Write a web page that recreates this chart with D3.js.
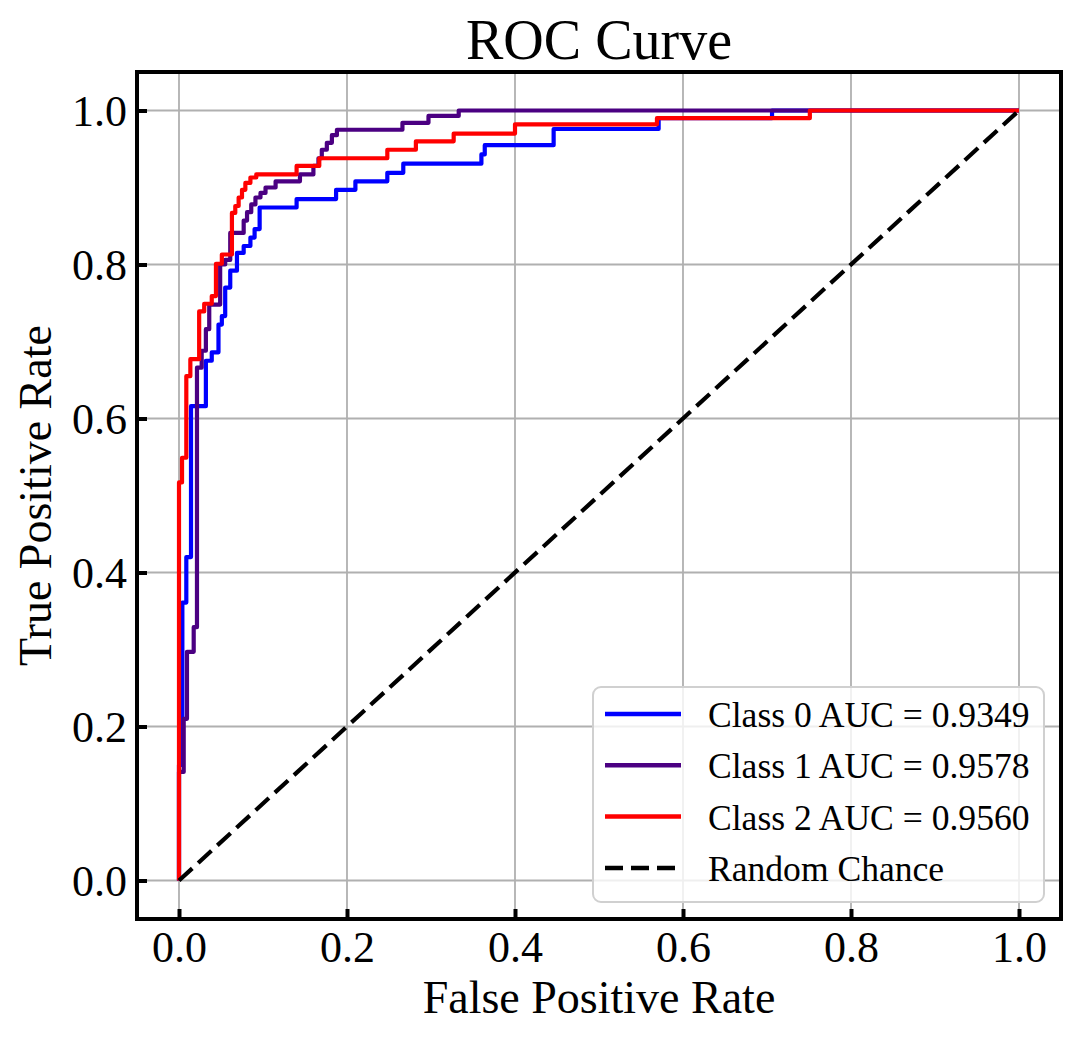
<!DOCTYPE html>
<html>
    <head>
        <meta charset="utf-8">
        <title>ROC Curve</title>
        <style>
            body {
                margin: 0;
                background: white;
            }
            svg text {
                font-family: "Liberation Serif", "Times New Roman", serif;
                fill: black;
            }
            .grid line {
                stroke: #b0b0b0;
                stroke-width: 1.8;
            }
            .curve {
                fill: none;
                stroke-width: 4.2;
                stroke-linejoin: round;
            }
        </style>
        <script src="https://d3js.org/d3.v7.min.js"></script>
    </head>
    <body>
        <svg id='main' width="1080" height="1042"></svg>
    <script>

        // roc corners [fpr, tpr]
        let class0Roc = [[0,0],[0,0.15],[0.004,0.15],[0.004,0.361],[0.0087,0.361],[0.0087,0.42],[0.0143,0.42],[0.0143,0.616],
            [0.032,0.616],[0.032,0.675],[0.039,0.675],[0.039,0.686],[0.047,0.686],[0.047,0.722],[0.051,0.722],[0.051,0.733],
            [0.055,0.733],[0.055,0.77],[0.061,0.77],[0.061,0.792],[0.069,0.792],[0.069,0.815],[0.077,0.815],[0.077,0.824],
            [0.085,0.824],[0.085,0.835],[0.09,0.835],[0.09,0.846],[0.096,0.846],[0.096,0.874],[0.14,0.874],[0.14,0.885],
            [0.187,0.885],[0.187,0.897],[0.21,0.897],[0.21,0.908],[0.248,0.908],[0.248,0.919],[0.267,0.919],[0.267,0.931],
            [0.36,0.931],[0.36,0.943],[0.364,0.943],[0.364,0.955],[0.446,0.955],[0.446,0.976],[0.571,0.976],[0.571,0.99],
            [0.706,0.99],[0.706,1],[1,1]];

        let class1Roc = [[0,0],[0,0.141],[0.0056,0.141],[0.0056,0.21],[0.0095,0.21],[0.0095,0.297],[0.0175,0.297],[0.0175,0.329],
            [0.0214,0.329],[0.0214,0.666],[0.027,0.666],[0.027,0.688],[0.032,0.688],[0.032,0.716],[0.036,0.716],[0.036,0.748],
            [0.049,0.748],[0.049,0.8],[0.055,0.8],[0.055,0.806],[0.061,0.806],[0.061,0.841],[0.077,0.841],[0.077,0.857],
            [0.081,0.857],[0.081,0.868],[0.086,0.868],[0.086,0.878],[0.091,0.878],[0.091,0.887],[0.097,0.887],[0.097,0.893],
            [0.103,0.893],[0.103,0.9],[0.115,0.9],[0.115,0.908],[0.144,0.908],[0.144,0.917],[0.16,0.917],[0.16,0.928],
            [0.166,0.928],[0.166,0.938],[0.17,0.938],[0.17,0.949],[0.176,0.949],[0.176,0.958],[0.182,0.958],[0.182,0.968],
            [0.188,0.968],[0.188,0.975],[0.266,0.975],[0.266,0.984],[0.297,0.984],[0.297,0.993],[0.333,0.993],[0.333,1],[1,1]];

        let class2Roc = [[0,0],[0,0.517],[0.0036,0.517],[0.0036,0.549],[0.0087,0.549],[0.0087,0.655],[0.0135,0.655],[0.0135,0.677],
            [0.024,0.677],[0.024,0.739],[0.03,0.739],[0.03,0.749],[0.039,0.749],[0.039,0.759],[0.044,0.759],[0.044,0.801],
            [0.051,0.801],[0.051,0.813],[0.063,0.813],[0.063,0.867],[0.067,0.867],[0.067,0.876],[0.071,0.876],[0.071,0.887],
            [0.075,0.887],[0.075,0.897],[0.079,0.897],[0.079,0.906],[0.085,0.906],[0.085,0.913],[0.092,0.913],[0.092,0.917],
            [0.14,0.917],[0.14,0.928],[0.167,0.928],[0.167,0.938],[0.248,0.938],[0.248,0.949],[0.282,0.949],[0.282,0.96],
            [0.327,0.96],[0.327,0.97],[0.4,0.97],[0.4,0.982],[0.569,0.982],[0.569,0.99],[0.751,0.99],[0.751,1],[1,1]];

        let chanceLine = [[0,0],[1,1]];

        let seriesNames = ['Class 0 AUC = 0.9349', 'Class 1 AUC = 0.9578', 'Class 2 AUC = 0.9560', 'Random Chance'];
        let seriesColors = ['#0000ff', '#4b0082', '#ff0000', '#000000'];
        let tickValues = [0, 0.2, 0.4, 0.6, 0.8, 1.0];

        let svg = d3.select('svg#main');
        let plotLeft = 137, plotRight = 1061, plotTop = 72, plotBottom = 919;

        let x = d3.scaleLinear().domain([-0.05, 1.05]).range([plotLeft, plotRight]);
        let y = d3.scaleLinear().domain([-0.05, 1.05]).range([plotBottom, plotTop]);

        // grid
        let grid = svg.append('g').attr('class', 'grid');
        grid.selectAll('.vx').data(tickValues).enter()
            .append('line')
                .attr('x1', d => x(d)).attr('x2', d => x(d))
                .attr('y1', plotTop).attr('y2', plotBottom);
        grid.selectAll('.hy').data(tickValues).enter()
            .append('line')
                .attr('y1', d => y(d)).attr('y2', d => y(d))
                .attr('x1', plotLeft).attr('x2', plotRight);

        // curves
        let line = d3.line()
            .x( d => x(d[0]) )
            .y( d => y(d[1]) );

        let curves = [class0Roc, class1Roc, class2Roc];
        svg.append('g')
            .selectAll('path')
            .data(curves)
            .enter()
            .append('path')
                .attr('class', 'curve')
                .attr('stroke', (d, i) => seriesColors[i])
                .attr('d', line);

        svg.append('path')
            .datum(chanceLine)
            .attr('class', 'curve')
            .attr('stroke', seriesColors[3])
            .attr('stroke-width', 4.5)
            .attr('stroke-dasharray', '18 8')
            .attr('d', line);

        // axes, ticks pointing in
        let xAxis = d3.axisBottom(x)
            .tickValues(tickValues)
            .tickFormat(d3.format('.1f'))
            .tickSize(-10)
            .tickPadding(12);
        let yAxis = d3.axisLeft(y)
            .tickValues(tickValues)
            .tickFormat(d3.format('.1f'))
            .tickSize(-10)
            .tickPadding(10);

        let gx = svg.append('g')
            .attr('transform', 'translate(0,' + plotBottom + ')')
            .call(xAxis);
        let gy = svg.append('g')
            .attr('transform', 'translate(' + plotLeft + ',0)')
            .call(yAxis);

        for (let g of [gx, gy]) {
            g.select('.domain').remove();
            g.attr('font-family', null).attr('font-size', null);
            g.selectAll('.tick line')
                .attr('stroke', 'black')
                .attr('stroke-width', 4);
            g.selectAll('.tick text')
                .style('font-size', '44px');
        }
        gy.selectAll('.tick text').attr('dy', '0.34em');

        // frame
        svg.append('rect')
            .attr('x', plotLeft).attr('y', plotTop)
            .attr('width', plotRight - plotLeft).attr('height', plotBottom - plotTop)
            .attr('fill', 'none')
            .attr('stroke', 'black')
            .attr('stroke-width', 4);

        // labels
        svg.append('text')
            .attr('x', (plotLeft + plotRight) / 2).attr('y', 59)
            .attr('text-anchor', 'middle')
            .style('font-size', '56px')
            .text('ROC Curve');

        svg.append('text')
            .attr('x', (plotLeft + plotRight) / 2).attr('y', 1013)
            .attr('text-anchor', 'middle')
            .style('font-size', '46px')
            .text('False Positive Rate');

        svg.append('text')
            .attr('transform', 'translate(51,' + ((plotTop + plotBottom) / 2) + ') rotate(-90)')
            .attr('text-anchor', 'middle')
            .style('font-size', '46px')
            .text('True Positive Rate');

        // legend
        let legend = svg.append('g').attr('class', 'legend');
        legend.append('rect')
            .attr('x', 593).attr('y', 687)
            .attr('width', 451).attr('height', 215)
            .attr('rx', 8)
            .attr('fill', 'white')
            .attr('fill-opacity', 0.8)
            .attr('stroke', '#d0d0d0')
            .attr('stroke-width', 2);

        let rows = legend.selectAll('.row')
            .data(seriesNames)
            .enter()
            .append('g')
                .attr('class', 'row')
                .attr('transform', (d, i) => 'translate(0,' + (714 + i * 51.3) + ')');

        rows.append('line')
            .attr('x1', 605).attr('x2', 681)
            .attr('stroke', (d, i) => seriesColors[i])
            .attr('stroke-width', 4.5)
            .attr('stroke-dasharray', (d, i) => i == 3 ? '18 8' : null);

        rows.append('text')
            .attr('x', 708).attr('y', 13)
            .style('font-size', '35.6px')
            .text(d => d);

    </script>
    </body>
</html>
